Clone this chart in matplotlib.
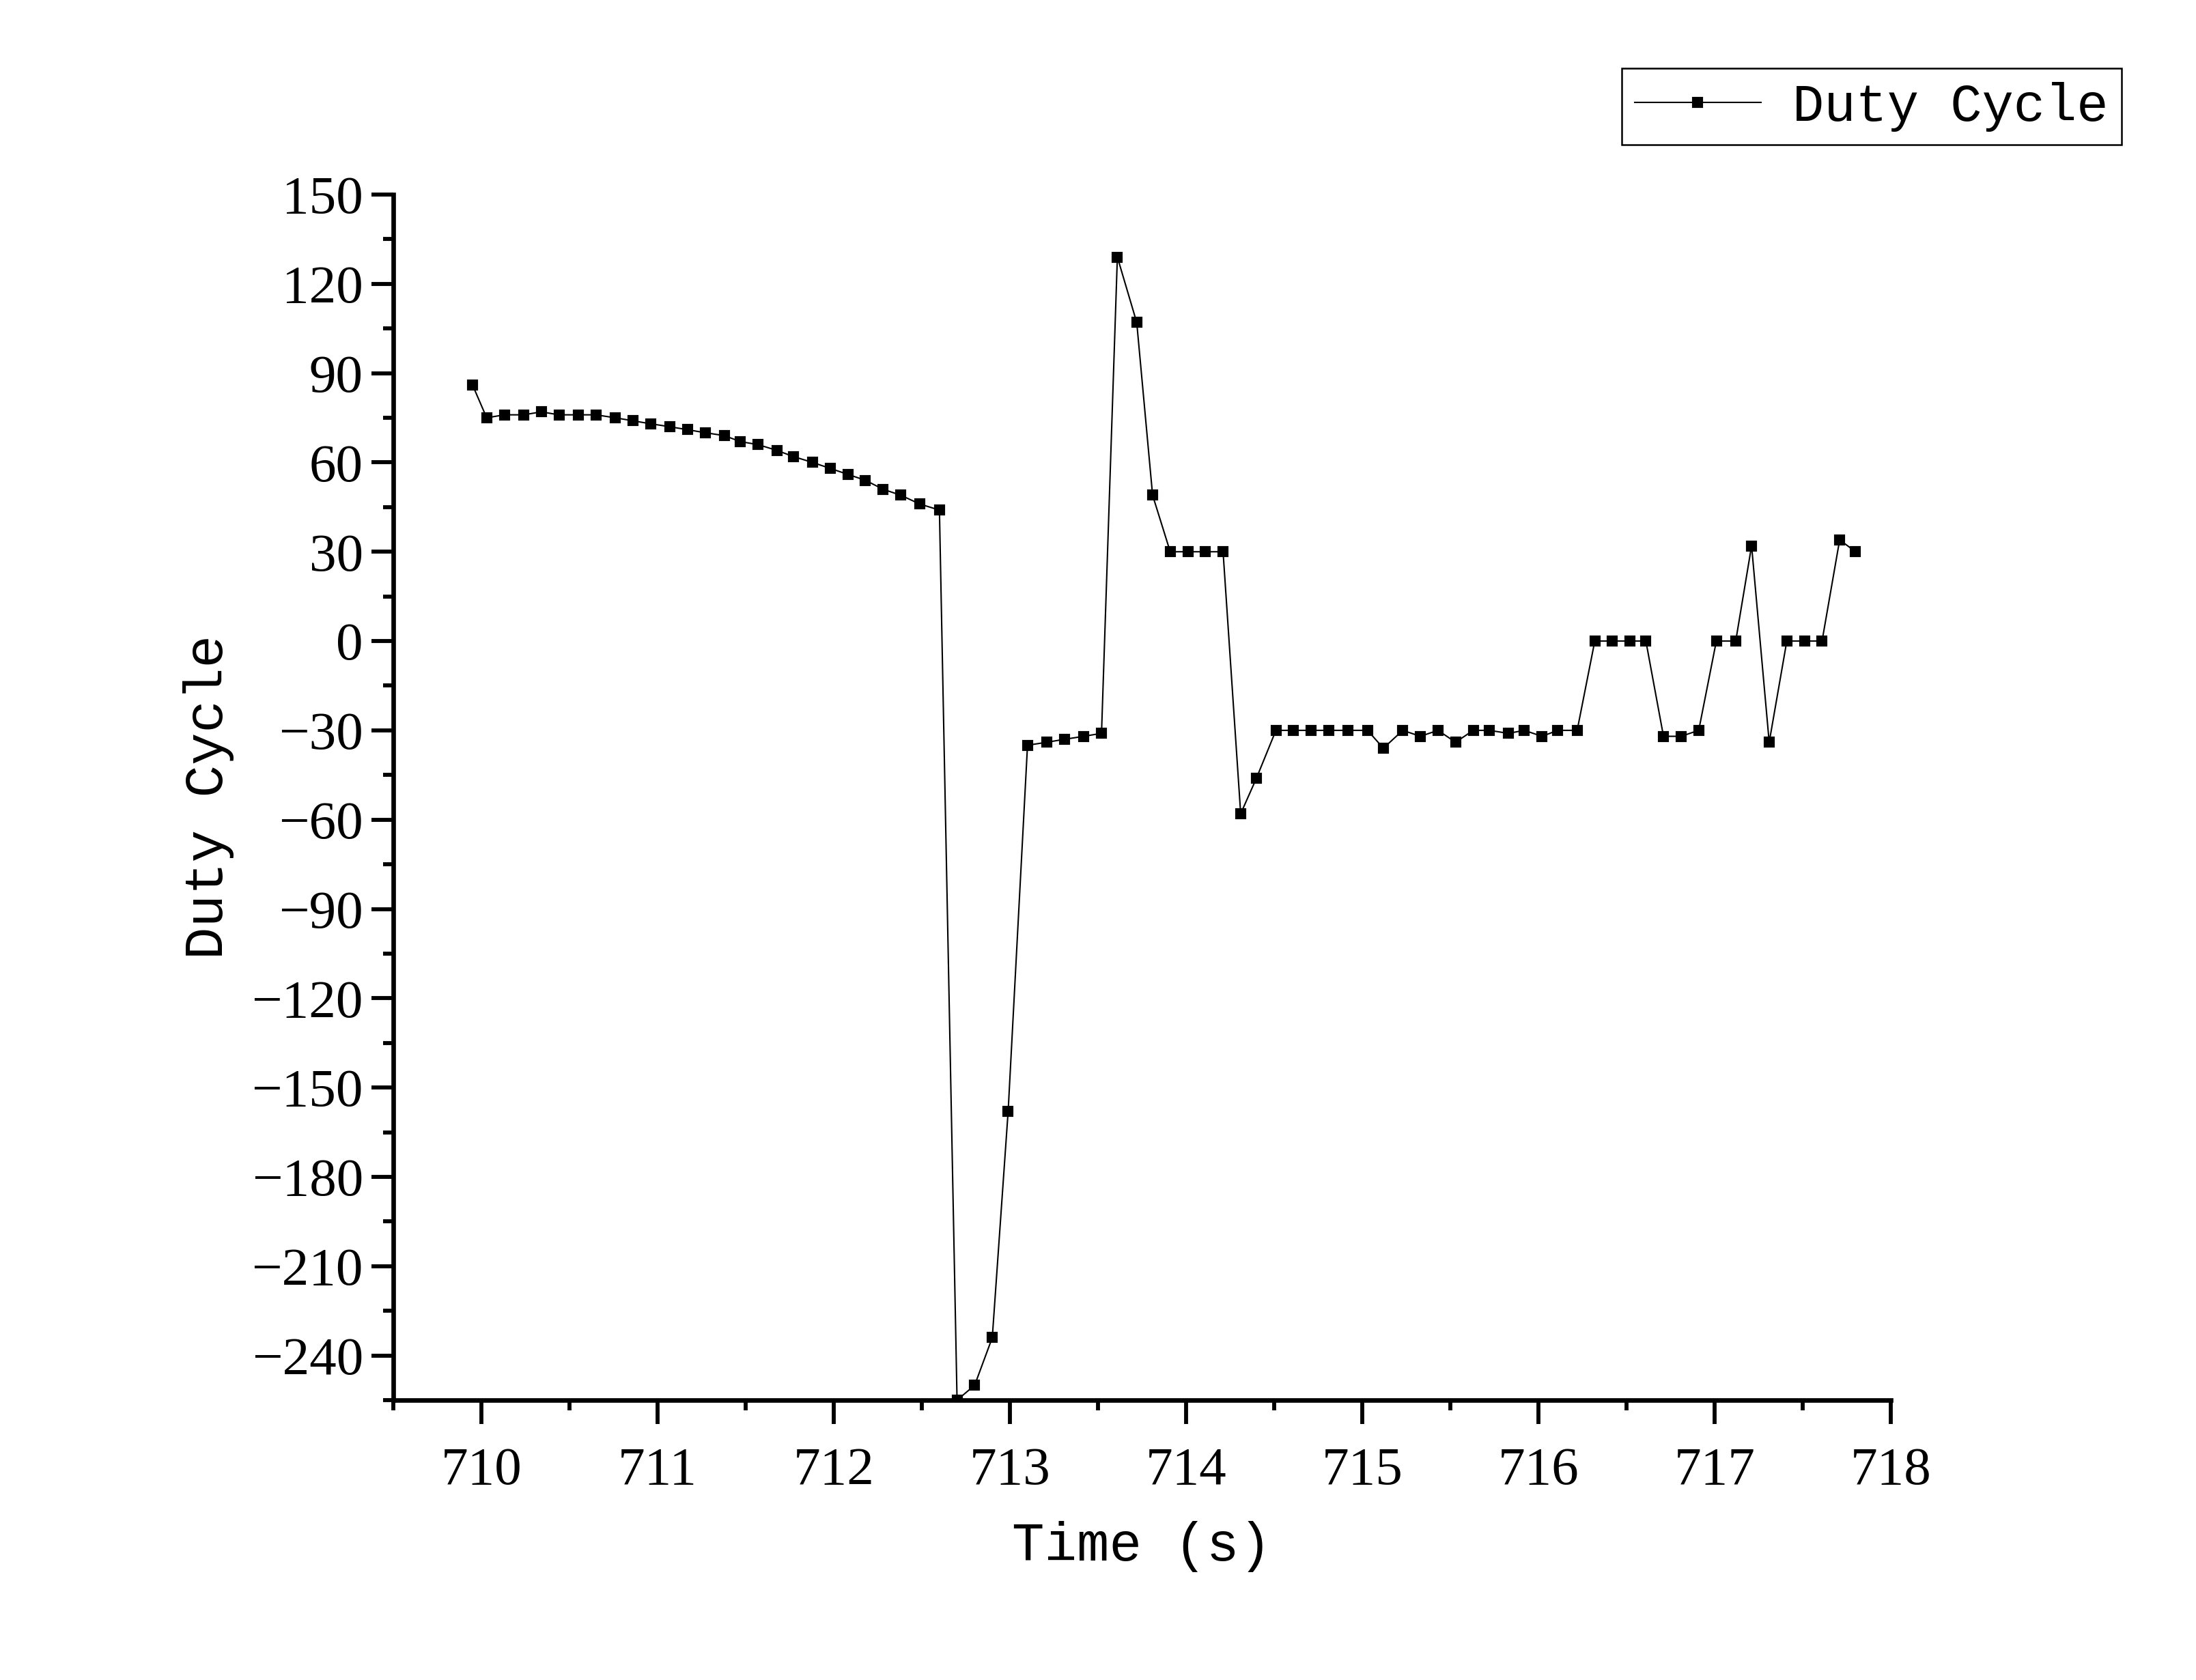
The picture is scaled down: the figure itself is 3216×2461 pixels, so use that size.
import matplotlib
matplotlib.use("Agg")
import matplotlib.pyplot as plt
from matplotlib.ticker import MultipleLocator

# time (s) and duty cycle
time_s = [
    709.95, 710.03, 710.13, 710.24, 710.34, 710.44, 710.55, 710.65, 710.76, 710.86,
    710.96, 711.07, 711.17, 711.27, 711.38, 711.47, 711.57, 711.68, 711.77, 711.88,
    711.98, 712.08, 712.18, 712.28, 712.38, 712.49, 712.60, 712.70, 712.80, 712.90,
    712.99, 713.10, 713.21, 713.31, 713.42, 713.52, 713.61, 713.72, 713.81, 713.91,
    714.01, 714.11, 714.21, 714.31, 714.40, 714.51, 714.61, 714.71, 714.81, 714.92,
    715.03, 715.12, 715.23, 715.33, 715.43, 715.53, 715.63, 715.72, 715.83, 715.92,
    716.02, 716.11, 716.22, 716.32, 716.42, 716.52, 716.61, 716.71, 716.81, 716.91,
    717.01, 717.12, 717.21, 717.31, 717.41, 717.51, 717.61, 717.71, 717.80,
]
duty = [
    86, 75, 76, 76, 77, 76, 76, 76, 75, 74,
    73, 72, 71, 70, 69, 67, 66, 64, 62, 60,
    58, 56, 54, 51, 49, 46, 44, -255, -250, -234,
    -158, -35, -34, -33, -32, -31, 129, 107, 49, 30,
    30, 30, 30, -58, -46, -30, -30, -30, -30, -30,
    -30, -36, -30, -32, -30, -34, -30, -30, -31, -30,
    -32, -30, -30, 0, 0, 0, 0, -32, -32, -30,
    0, 0, 32, -34, 0, 0, 0, 34, 30,
]
yticks = list(range(-240, 151, 30))
xticks = list(range(710, 719))

tick_font = "Liberation Serif"
label_font = "Liberation Mono"

fig = plt.figure(figsize=(3216 / 300, 2461 / 300), dpi=300)
ax = fig.add_axes([0.1791, 0.1666, 0.6819, 0.7176])

line, = ax.plot(time_s, duty, color="black", lw=0.5, marker="s", ms=2.8,
                mec="black", mfc="black", label="Duty Cycle")

ax.set_xlim(709.5, 718)
ax.set_ylim(-255, 150)
ax.set_xticks(xticks)
ax.set_yticks(yticks)
ax.xaxis.set_minor_locator(MultipleLocator(0.5))
ax.yaxis.set_minor_locator(MultipleLocator(15))

for s in ["top", "right"]:
    ax.spines[s].set_visible(False)
for s in ["left", "bottom"]:
    ax.spines[s].set_linewidth(1.6)

ax.tick_params(axis="both", which="major", direction="out", length=7.6, width=1.4,
               labelsize=19)
ax.tick_params(axis="both", which="minor", direction="out", length=3.6, width=1.4)
ax.tick_params(axis="x", which="major", length=8.4, pad=8)
ax.tick_params(axis="y", which="major", pad=3)
for lab in ax.get_xticklabels() + ax.get_yticklabels():
    lab.set_fontfamily(tick_font)

ax.set_xlabel("Time (s)", family=label_font, fontsize=19, labelpad=9)
ax.set_ylabel("Duty Cycle", family=label_font, fontsize=19, labelpad=6)

leg = fig.legend(handles=[line], loc="upper right", bbox_to_anchor=(0.9661, 0.9592),
                 borderaxespad=0, prop={"family": label_font, "size": 18.5},
                 fancybox=False, edgecolor="black", framealpha=1, borderpad=0.25,
                 handlelength=2.4, handletextpad=0.6)
leg.get_frame().set_linewidth(0.6)

fig.savefig("out.png", dpi=300)
